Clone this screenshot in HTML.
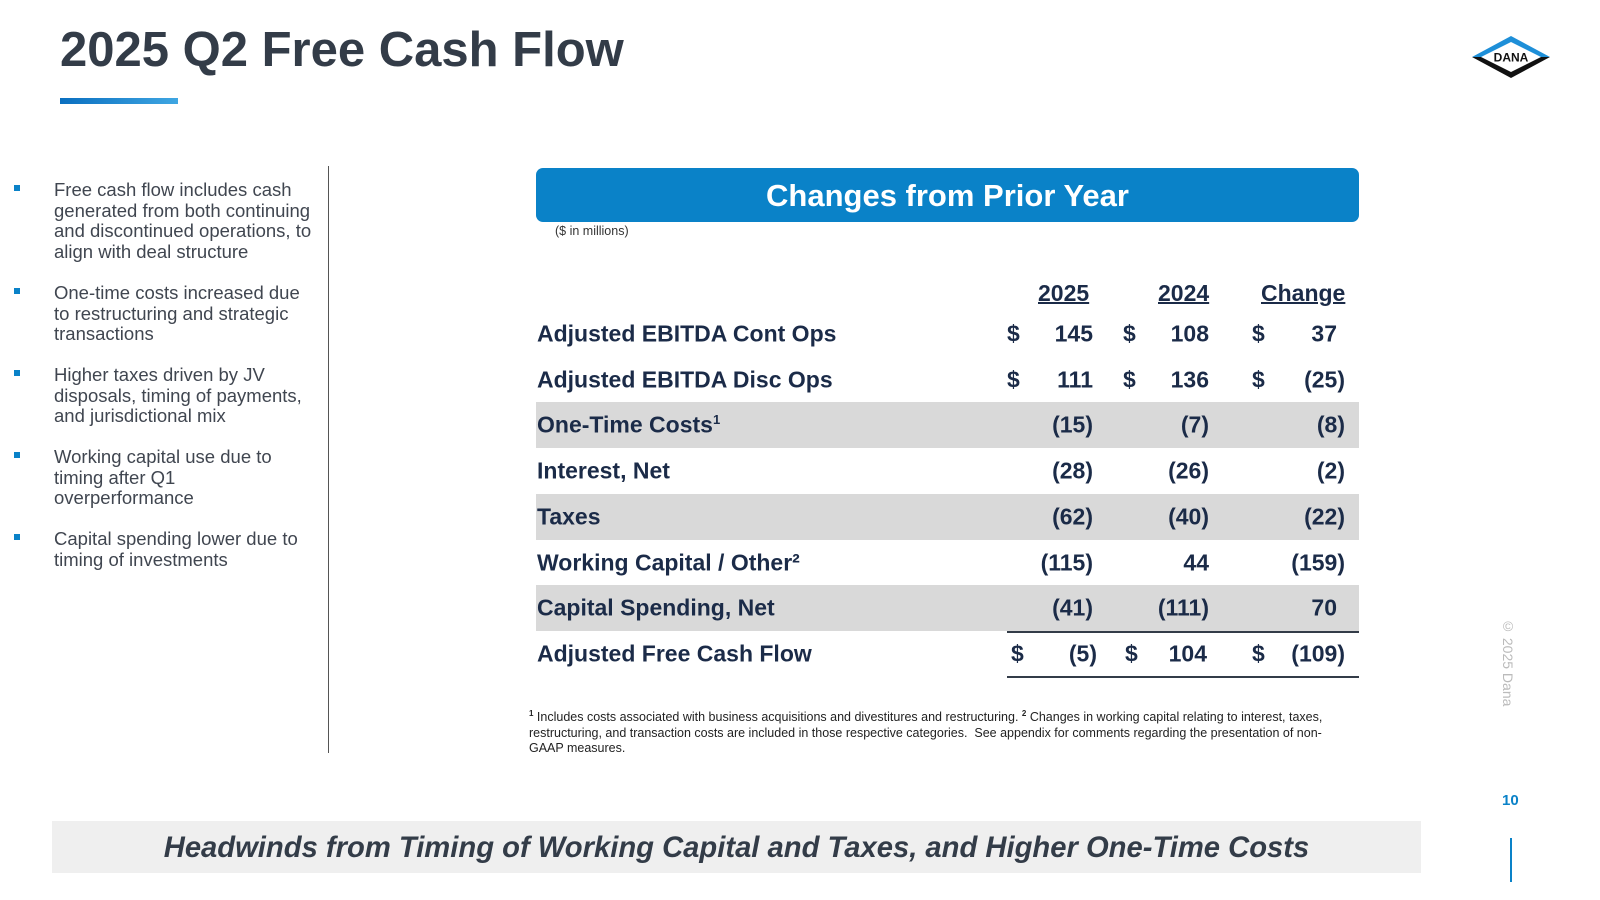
<!DOCTYPE html>
<html><head><meta charset="utf-8"><style>
body{margin:0;width:1600px;height:900px;position:relative;background:#fff;font-family:"Liberation Sans",Arial,sans-serif;overflow:hidden}
.a{position:absolute}
.title{left:60px;top:22px;font-size:49px;font-weight:bold;color:#333c48;margin:0}
.bul{left:12px;width:304px;font-size:18.5px;line-height:20.7px;color:#404650}
.bul .sq{position:absolute;left:2px;top:5px;width:6px;height:6px;background:#0a82c8}
.bul .t{margin-left:42px}
.row{left:536px;width:823px;height:46px;font-size:23px;font-weight:bold;color:#1b2b48}
.row.sh{background:#d9d9d9}
.row span{position:absolute;top:50%;transform:translateY(-50%);white-space:nowrap}
.lbl{left:1px}
.r{text-align:right}
.hd{font-size:23px;font-weight:bold;color:#1b2b48;text-decoration:underline;text-decoration-thickness:2px}
</style></head><body>
<h1 class="a title">2025 Q2 Free Cash Flow</h1>
<div class="a" style="left:60px;top:98px;width:118px;height:6px;background:linear-gradient(90deg,#0a6fc0,#3fa6e2)"></div>
<svg class="a" style="left:1472px;top:36px" width="78" height="42" viewBox="0 0 78 42">
<polygon points="0,21 39,0 78,21" fill="#1e8fd8"/><polygon points="0,21 39,42 78,21" fill="#111"/>
<polygon points="9,21 39,6 69,21 39,36" fill="#fff"/>
<text x="39" y="25.5" text-anchor="middle" font-size="12" font-weight="bold" fill="#111" font-family="Liberation Sans">DANA</text></svg>

<div class="a bul" style="top:180px"><div class="sq"></div><div class="t">Free cash flow includes cash generated from both continuing and discontinued operations, to align with deal structure</div></div>
<div class="a bul" style="top:283px"><div class="sq"></div><div class="t">One-time costs increased due to restructuring and strategic transactions</div></div>
<div class="a bul" style="top:365px"><div class="sq"></div><div class="t">Higher taxes driven by JV disposals, timing of payments, and jurisdictional mix</div></div>
<div class="a bul" style="top:447px"><div class="sq"></div><div class="t">Working capital use due to timing after Q1 overperformance</div></div>
<div class="a bul" style="top:529px"><div class="sq"></div><div class="t">Capital spending lower due to timing of investments</div></div>
<div class="a" style="left:328px;top:166px;width:1px;height:587px;background:#555"></div>

<div class="a" style="left:536px;top:168px;width:823px;height:54px;background:#0a82c8;border-radius:7px;color:#fff;font-size:31px;font-weight:bold;text-align:center;line-height:56px">Changes from Prior Year</div>
<div class="a" style="left:555px;top:224px;font-size:12.5px;color:#333">($ in millions)</div>

<div class="a hd" style="left:1038px;top:280px">2025</div>
<div class="a hd" style="left:1158px;top:280px">2024</div>
<div class="a hd" style="left:1261px;top:280px">Change</div>

<div id="rows"></div>
<div class="a" style="left:1007px;top:631px;width:352px;height:2px;background:#333c48"></div>
<div class="a" style="left:1007px;top:676px;width:352px;height:2px;background:#333c48"></div>

<div class="a" style="left:529px;top:706px;width:820px;font-size:12.5px;line-height:15.5px;color:#222"><sup style="font-size:8px;font-weight:bold">1</sup> Includes costs associated with business acquisitions and divestitures and restructuring. <sup style="font-size:8px;font-weight:bold">2</sup> Changes in working capital relating to interest, taxes, restructuring, and transaction costs are included in those respective categories.&nbsp; See appendix for comments regarding the presentation of non-GAAP measures.</div>

<div class="a" style="left:1500px;top:618px;writing-mode:vertical-rl;font-size:14px;color:#bbb">© 2025 Dana</div>
<div class="a" style="left:1502px;top:792px;font-size:15px;font-weight:bold;color:#0a82c8">10</div>
<div class="a" style="left:1510px;top:838px;width:2px;height:44px;background:#0a82c8"></div>

<div class="a" style="left:52px;top:821px;width:1369px;height:52px;background:#efefef;text-align:center;line-height:54px;font-size:29.2px;font-weight:bold;font-style:italic;color:#333c48">Headwinds from Timing of Working Capital and Taxes, and Higher One-Time Costs</div>

<script>
const labels=["Adjusted EBITDA Cont Ops","Adjusted EBITDA Disc Ops","One-Time Costs<sup style='font-size:13px'>1</sup>","Interest, Net","Taxes","Working Capital / Other²","Capital Spending, Net","Adjusted Free Cash Flow"];
const v2025=["145","111","(15)","(28)","(62)","(115)","(41)","(5)"];
const v2024=["108","136","(7)","(26)","(40)","44","(111)","104"];
const vchg=["37","(25)","(8)","(2)","(22)","(159)","70","(109)"];
const dollars=[true,true,false,false,false,false,false,true];
const shaded=[false,false,true,false,true,false,true,false];
const names=["ebitda-cont-ops","ebitda-disc-ops","one-time-costs","interest-net","taxes","working-capital","capital-spending","adjusted-fcf"];
const host=document.getElementById('rows');
labels.forEach((l,i)=>{
 const d=document.createElement('div');
 d.className='a row'+(shaded[i]?' sh':'');
 d.style.top=(311+i*45.7)+'px';
 
 
 const last=i===7, off=last?4:0;
 let h=`<span class="lbl">${l}</span>`;
 if(dollars[i]){
  h+=`<span style="left:${471+off}px">$</span><span style="left:${587+off/2}px">$</span><span style="left:716px">$</span>`;
 }
 h+=`<span class="r" style="right:${266-off}px">${v2025[i]}</span>`;
 h+=`<span class="r" style="right:${150-(last?-2:0)}px">${v2024[i]}</span>`;
 h+=`<span class="r" style="right:${vchg[i].startsWith('(')?14:22}px">${vchg[i]}</span>`;
 d.innerHTML=h;
 host.appendChild(d);
});
</script>
</body></html>
